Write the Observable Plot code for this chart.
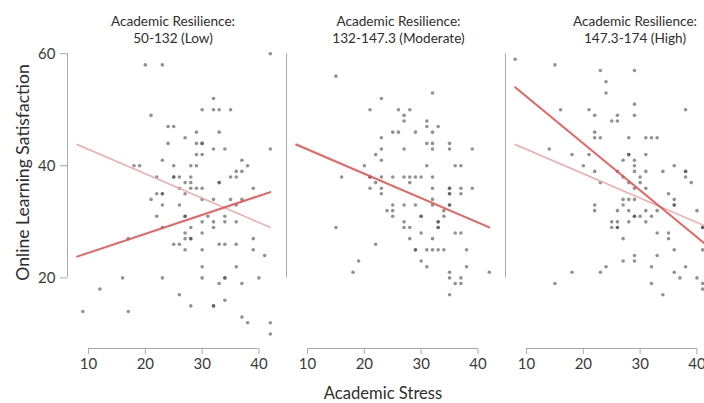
<!DOCTYPE html>
<html><head><meta charset="utf-8">
<script src="https://cdn.jsdelivr.net/npm/d3@7"></script>
<script src="https://cdn.jsdelivr.net/npm/@observablehq/plot@0.6"></script>
<style>
html,body{margin:0;padding:0;overflow:hidden;background:#fff;}
#chart svg{max-width:none !important;}
</style></head><body><div id="chart"></div>
<script>
const panels = ["Low", "Moderate", "High"];
const panelTitles = [
  "Academic Resilience:\n50-132 (Low)",
  "Academic Resilience:\n132-147.3 (Moderate)",
  "Academic Resilience:\n147.3-174 (High)"
];
const xTicks = [10, 20, 30, 40];
const yTicks = [20, 40, 60];

// Low resilience panel: academic stress (x), satisfaction (y)
const lowX = [42,20,23,32,30,32,33,35,21,24,25,27,29,33,24,29,30,30,29,30,32,34,42,23,18,19,25,28,29,37,38,36,37,22,25,25,26,28,35,36,33,33,27,28,26,28,29,30,39,22,23,23,27,
  21,30,32,35,37,23,26,36,22,27,27,31,34,30,32,34,36,28,32,23,27,30,27,28,28,39,17,25,26,33,34,36,27,30,39,41,30,36,16,23,30,34,34,40,33,37,12,26,34,28,32,32,9,17,37,38,42,42];
const lowY = [60,58,58,52,50,50,50,50,49,47,47,45,46,46,44,44,44,44,42,42,43,43,43,41,40,40,40,40,40,41,40,39,39,38,38,38,38,38,38,38,37,37,37,37,36,36,36,36,36,35,35,35,35,
  34,34,34,34,34,33,33,33,31,31,31,31,31,30,30,30,30,29,29,29,28,28,27,27,27,27,27,26,26,26,26,26,25,25,25,24,22,22,20,20,20,20,20,20,19,19,18,17,16,15,15,15,14,14,13,12,12,10];

// Moderate resilience panel
const modX = [15,32,23,21,26,28,27,27,31,31,33,25,26,29,32,23,31,32,35,23,27,32,35,39,22,23,20,31,36,37,16,21,21,23,25,27,28,29,30,32,22,28,21,23,32,35,35,37,39,23,35,35,37,32,
  25,27,29,32,35,35,24,25,34,25,30,30,34,15,27,33,33,27,28,33,33,30,36,37,28,32,22,29,29,31,32,33,34,38,19,30,31,38,18,35,42,35,37,36,37,35];
const modY = [56,53,52,50,50,50,49,48,48,47,47,46,46,46,46,45,44,44,44,43,43,43,43,43,42,41,40,40,40,40,38,38,38,38,38,38,38,38,38,38,37,37,36,36,36,36,36,36,36,35,35,35,35,34,
  33,33,33,33,33,33,32,32,32,31,31,31,31,29,30,30,30,29,29,29,29,28,28,28,27,27,26,25,25,25,25,25,25,25,23,23,22,22,21,21,21,20,20,19,19,17];

// High resilience panel
const highX = [8,15,23,29,24,24,29,16,21,38,22,26,29,25,26,22,22,23,28,31,32,33,14,18,21,28,28,31,27,29,20,29,36,22,26,29,31,34,38,38,27,30,38,23,28,30,39,29,31,35,
  27,28,29,36,36,36,22,27,22,26,28,31,33,40,29,29,30,32,25,26,28,31,25,26,26,41,41,33,35,27,35,36,41,29,33,27,29,24,32,38,18,23,36,37,40,41,15,32,41,34];
const highY = [59,58,57,57,55,53,51,50,50,50,49,49,49,48,48,46,45,45,45,45,45,45,43,42,42,42,42,42,41,41,40,40,40,39,39,39,39,39,39,39,38,38,38,37,37,37,37,36,36,35,
  34,34,34,34,33,33,33,33,32,32,32,32,32,32,31,31,31,31,30,30,30,30,29,29,29,29,29,28,28,27,27,25,25,24,24,23,23,22,22,22,21,21,21,20,20,19,19,19,18,17];

// Fitted lines (end points)
const fitX = [8, 42];
const fitLow = [23.8, 35.3];
const fitModerate = [43.8, 29.0];
const fitHigh = [54.0, 25.6];

const xDomain = [6.3, 44.85];
const yDomain = [7.4, 62];

const points = [
  ...lowX.map((x, i) => ({panel: "Low", x, y: lowY[i]})),
  ...modX.map((x, i) => ({panel: "Moderate", x, y: modY[i]})),
  ...highX.map((x, i) => ({panel: "High", x, y: highY[i]}))
];
const mainFits = [
  ...fitX.map((x, i) => ({panel: "Low", x, y: fitLow[i]})),
  ...fitX.map((x, i) => ({panel: "Moderate", x, y: fitModerate[i]})),
  ...fitX.map((x, i) => ({panel: "High", x, y: fitHigh[i]}))
];
const refFits = [
  ...fitX.map((x, i) => ({panel: "Low", x, y: fitModerate[i]})),
  ...fitX.map((x, i) => ({panel: "High", x, y: fitModerate[i]}))
];

const font = "Lato, 'Open Sans', sans-serif";
const titleDx = [-4, 2.5, 20];

const chart = Plot.plot({
  width: 725,
  height: 403,
  marginLeft: 66,
  marginRight: 0,
  marginTop: 42,
  marginBottom: 55,
  style: {fontFamily: font, background: "#fff", maxWidth: "none", overflow: "visible"},
  fx: {domain: panels, padding: 0, axis: null},
  x: {domain: xDomain},
  y: {domain: yDomain},
  marks: [
    Plot.ruleX(panels, {fx: d => d, x: xDomain[0], y1: yTicks[0], y2: yTicks[yTicks.length - 1], stroke: "#a8a8a8", strokeWidth: 1}),
    Plot.ruleY(panels, {fx: d => d, y: yDomain[0], x1: xTicks[0], x2: xTicks[xTicks.length - 1], stroke: "#a8a8a8", strokeWidth: 1}),
    Plot.axisX({ticks: xTicks, tickSize: 6, tickPadding: 4, fontSize: 15, stroke: "#a8a8a8", fill: "#3a3a3a", label: null}),
    Plot.axisY({ticks: yTicks, anchor: "left", tickSize: 7, tickPadding: 5, fontSize: 15, stroke: "#a8a8a8", fill: "#3a3a3a", label: null}),
    Plot.dot(points, {fx: "panel", x: "x", y: "y", r: 1.8, fill: "#4a4a4a", fillOpacity: 0.6, stroke: "none"}),
    Plot.line(refFits, {fx: "panel", x: "x", y: "y", z: "panel", stroke: "#f4a6a6", strokeWidth: 1.4}),
    Plot.line(mainFits, {fx: "panel", x: "x", y: "y", z: "panel", stroke: "#e9504c", strokeWidth: 2, strokeOpacity: 0.9}),
    ...panels.map((p, i) => Plot.text([panelTitles[i]], {fx: [p], frameAnchor: "top", lineAnchor: "top", dy: -29, dx: titleDx[i], fontSize: 13.6, lineHeight: 1.28, fill: "#2e2e2e"})),
    Plot.text(["Online Learning Satisfaction"], {fx: ["Low"], frameAnchor: "left", textAnchor: "middle", lineAnchor: "middle", rotate: -90, dx: -44, dy: -23, fontSize: 17.6, fill: "#2e2e2e"}),
    Plot.text(["Academic Stress"], {fx: ["Moderate"], frameAnchor: "bottom", lineAnchor: "top", dy: 38.5, dx: -13, fontSize: 16.6, fill: "#2e2e2e"})
  ]
});
document.getElementById("chart").appendChild(chart);
</script></body></html>
